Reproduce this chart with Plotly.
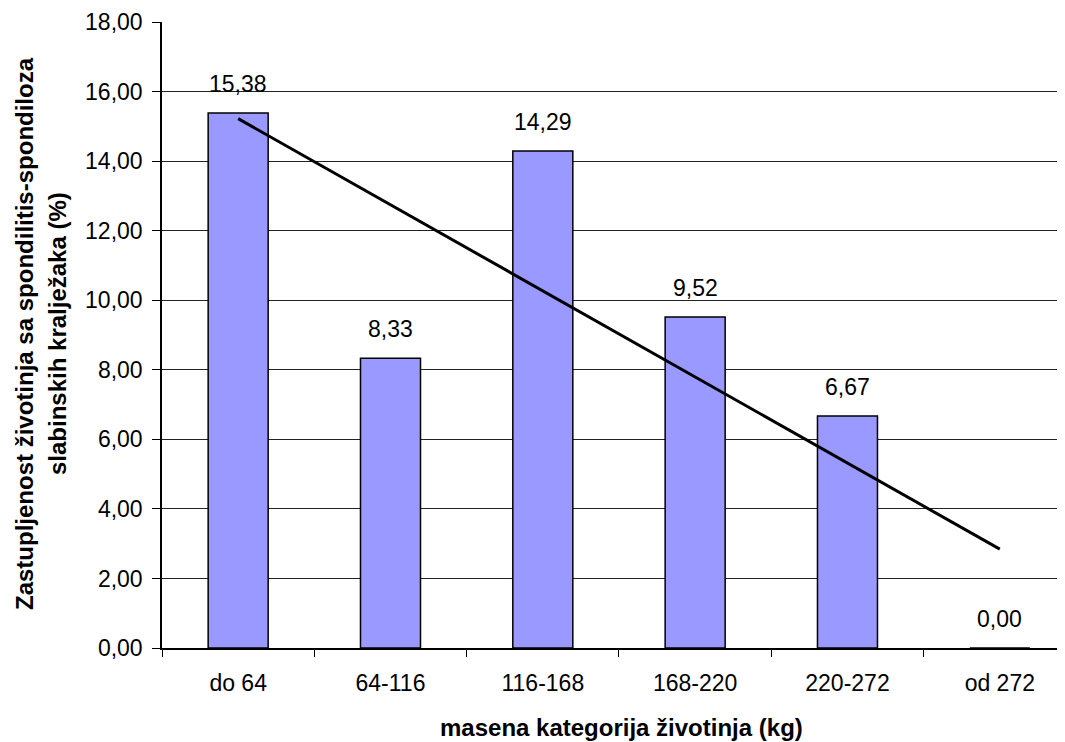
import numpy as np
import plotly.graph_objects as go

categories = ["do 64", "64-116", "116-168", "168-220", "220-272", "od 272"]
values = [15.38, 8.33, 14.29, 9.52, 6.67, 0.00]
y_ticks = [0, 2, 4, 6, 8, 10, 12, 14, 16, 18]

x_title = "masena kategorija životinja (kg)"
y_title_lines = ["Zastupljenost životinja sa spondilitis-spondiloza",
                 "slabinskih kralježaka (%)"]

FONT = "Liberation Sans, Arial, sans-serif"

# linear trend line (least squares) over category positions
idx = np.arange(len(values))
slope, intercept = np.polyfit(idx, values, 1)
trend = slope * idx + intercept

fig = go.Figure()
fig.add_trace(go.Bar(
    x=categories, y=values, width=0.394,
    marker=dict(color="#9999FF", line=dict(color="#000000", width=1.5)),
    showlegend=False, hoverinfo="skip",
))
fig.add_trace(go.Scatter(
    x=[categories[0], categories[-1]], y=[trend[0], trend[-1]],
    mode="lines", line=dict(color="#000000", width=3),
    showlegend=False, hoverinfo="skip",
))

for c, v in zip(categories, values):
    fig.add_annotation(
        x=c, y=v, text=f"{v:.2f}".replace(".", ","), showarrow=False,
        yanchor="middle", xanchor="center", yshift=29,
        font=dict(family=FONT, size=23, color="#000000"),
    )

# the page body adds an 8px margin, so the figure is laid out in page coords - 8
OFF = 8
W, H = 1065 - OFF, 742 - OFF
ml, mr, mt, mb = 162 - OFF, 0, 22 - OFF, 94
pw = W - ml - mr
ph = H - mt - mb
axis_y = H - mb  # figure pixel of y=0

# y-axis title: two bold rotated lines
for xpix, line in zip([24, 57], y_title_lines):
    fig.add_annotation(
        xref="paper", yref="paper",
        x=(xpix - OFF - ml) / pw, y=(axis_y - (334 - OFF)) / ph,
        text=f"<b>{line}</b>",
        showarrow=False, textangle=-90, xanchor="center", yanchor="middle",
        font=dict(family=FONT, size=24, color="#000000"),
    )

# x-axis title
fig.add_annotation(
    xref="paper", yref="paper",
    x=(621 - OFF - ml) / pw, y=-((727 - OFF) - axis_y) / ph,
    text=f"<b>{x_title}</b>",
    showarrow=False, xanchor="center", yanchor="middle",
    font=dict(family=FONT, size=24, color="#000000"),
)

fig.update_layout(
    width=W, height=H,
    margin=dict(l=ml, r=mr, t=mt, b=mb),
    paper_bgcolor="#FFFFFF", plot_bgcolor="#FFFFFF",
    separators=",.",
    font=dict(family=FONT, size=23, color="#000000"),
)
fig.update_xaxes(
    type="category", range=[-0.5, 5.428],
    showline=True, linecolor="#000000", linewidth=1.5,
    ticks="outside", ticklen=7, tickcolor="#000000", tickwidth=1,
    tickson="boundaries", showgrid=False,
    ticklabelstandoff=14,
    tickfont=dict(family=FONT, size=23, color="#000000"),
)
fig.update_yaxes(
    range=[0, 18], tickvals=y_ticks, tickformat=".2f",
    showline=True, linecolor="#000000", linewidth=1.5,
    ticks="outside", ticklen=8, tickcolor="#000000", tickwidth=1,
    showgrid=True, gridcolor="#222222", gridwidth=1,
    zeroline=False,
    ticklabelstandoff=5,
    tickfont=dict(family=FONT, size=23, color="#000000"),
)

fig.write_html("out.html")
